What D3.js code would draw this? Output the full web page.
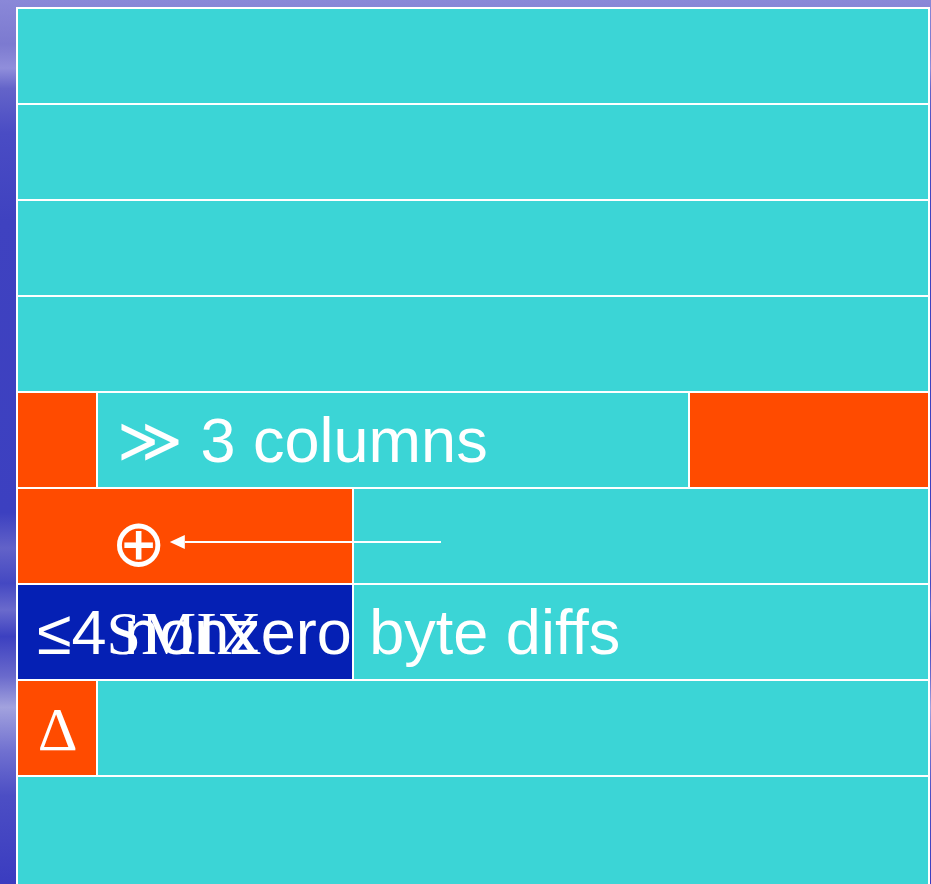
<!DOCTYPE html>
<html><head><meta charset="utf-8">
<script src="https://cdn.jsdelivr.net/npm/d3@7"></script>
<style>html,body{margin:0;padding:0;background:#5a5ac8;overflow:hidden}</style>
</head><body>
<script>
// ---- data ----
// grid of 9 rows, 57 column units
const cellRow  = [0, 1, 2, 3, 4, 4, 4, 5, 5, 6, 6, 7, 7, 8];
const cellFrom = [0, 0, 0, 0, 0, 5, 42, 0, 21, 0, 21, 0, 5, 0];
const cellTo   = [57,57,57,57, 5, 42, 57, 21, 57, 21, 57, 5, 57, 57];
const cellKind = ["c","c","c","c","o","c","o","o","c","b","c","o","c","c"];
const lastRowSpan = 1.3; // last row runs off the bottom edge

const labelText = ["≫ 3 columns", "⊕", "≤4 nonzero byte diffs", "SMIX", "Δ"];
const labelRow  = [4, 5, 6, 6, 7];
const labelX    = [6.25, 7.575, 1.25, 5.6, 1.3];
const labelFace = ["sans", "sym", "sans", "serif", "serif"];

const arrowRow = 5, arrowFrom = 26.5, arrowTo = 9.55;

// ---- drawing ----
const W = 931, H = 884;
const palette = {c: "#3bd5d6", o: "#ff4b00", b: "#0520b4"};
const fonts = {sans: "'Liberation Sans', Arial, sans-serif", serif: "'Liberation Serif', 'Times New Roman', serif", sym: "'DejaVu Sans', sans-serif"};

const svg = d3.select("body").append("svg").attr("width", W).attr("height", H);
const defs = svg.append("defs");
const g = defs.append("linearGradient").attr("id", "bg").attr("x1", 0).attr("y1", 0).attr("x2", 0).attr("y2", 1);
[[0, "#8a88d8"], [0.05, "#7c7ad0"], [0.077, "#908edb"], [0.1, "#6464c9"], [0.15, "#4a4cc4"], [0.25, "#3f42c0"],
 [0.58, "#3c40c0"], [0.62, "#6262c8"], [0.66, "#4448c2"], [0.69, "#6a6acc"], [0.72, "#3c40c0"], [0.765, "#6a6acc"],
 [0.8, "#a2a2de"], [0.85, "#7070d0"], [0.9, "#4c4ec4"], [1, "#3a3cc0"]]
  .forEach(([o, c]) => g.append("stop").attr("offset", o).attr("stop-color", c));
svg.append("rect").attr("width", W).attr("height", H).attr("fill", "url(#bg)");

const x = d3.scaleLinear().domain([0, 57]).range([17, 929]);
const y = d3.scaleLinear().domain([0, 9]).range([8, 872]);

// white frame
svg.append("rect").attr("x", x(0) - 1).attr("y", y(0) - 1)
  .attr("width", x(57) - x(0) + 2).attr("height", H).attr("fill", "#fff");

const cells = cellRow.map((r, i) => ({r, a: cellFrom[i], b: cellTo[i], k: cellKind[i]}));
svg.append("g").selectAll("rect").data(cells).join("rect")
  .attr("x", d => x(d.a) + 1)
  .attr("y", d => y(d.r) + 1)
  .attr("width", d => x(d.b) - x(d.a) - 2)
  .attr("height", d => y(d.r + (d.r === 8 ? lastRowSpan : 1)) - y(d.r) - 2)
  .attr("fill", d => palette[d.k]);

// arrow
const ay = (y(arrowRow) + y(arrowRow + 1)) / 2 + 6;
svg.append("line").attr("x1", x(arrowFrom)).attr("x2", x(arrowTo) + 15).attr("y1", ay).attr("y2", ay)
  .attr("stroke", "#fff").attr("stroke-width", 2);
svg.append("path").attr("d", `M${x(arrowTo)},${ay}l15,-7v14z`).attr("fill", "#fff");

const labels = labelText.map((t, i) => ({t, r: labelRow[i], u: labelX[i], f: labelFace[i]}));
svg.append("g").selectAll("text").data(labels).join("text")
  .attr("x", d => x(d.u))
  .attr("y", d => (y(d.r) + y(d.r + 1)) / 2 + (d.f === "sym" ? 30 : 22))
  .attr("text-anchor", d => d.f === "sym" ? "middle" : "start")
  .attr("font-family", d => fonts[d.f])
  .attr("font-weight", d => d.f === "sym" ? 200 : 400)
  .attr("font-size", d => d.f === "sym" ? 66 : (d.f === "serif" ? 62 : 63))
  .attr("fill", "#fff")
  .text(d => d.t);
</script>
</body></html>
